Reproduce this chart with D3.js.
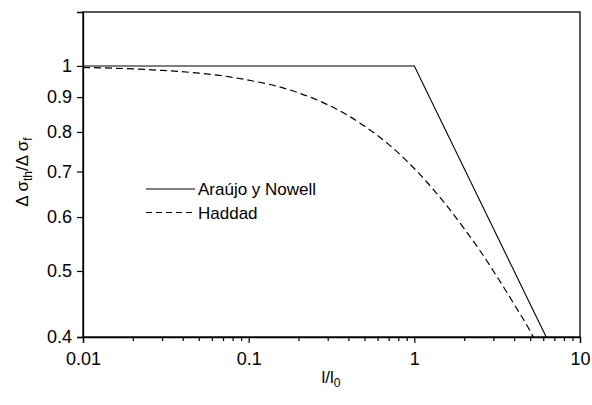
<!DOCTYPE html>
<html>
<head>
<meta charset="utf-8">
<script src="https://cdn.jsdelivr.net/npm/d3@7"></script>
<style>
  html, body { margin: 0; padding: 0; background: #fff; }
  svg { display: block; font-family: "Liberation Sans", Arial, sans-serif; }
</style>
</head>
<body>
<svg id="chart" width="592" height="405"></svg>
<script>
// Normalised crack length l/l0 and threshold ratio Δσth/Δσf
const arajoX = [0.01, 1, 6.25];
const arajoY = [1.0, 1.0, 0.4];

const haddadX = [0.01, 0.02, 0.03, 0.05, 0.07, 0.1, 0.15, 0.2, 0.3, 0.4, 0.5, 0.7, 1, 1.5, 2, 2.5, 3, 4, 5, 5.3];
const haddadY = [0.995, 0.99, 0.985, 0.976, 0.967, 0.953, 0.933, 0.913, 0.877, 0.845, 0.816, 0.767, 0.707, 0.632, 0.577, 0.535, 0.5, 0.447, 0.408, 0.397];

const xTicks = [0.01, 0.1, 1, 10];
const xTickLabels = ["0.01", "0.1", "1", "10"];
const yTicks = [0.4, 0.5, 0.6, 0.7, 0.8, 0.9, 1];
const yTickLabels = ["0.4", "0.5", "0.6", "0.7", "0.8", "0.9", "1"];

const seriesNames = ["Araújo y Nowell", "Haddad"];

const svg = d3.select("#chart");
const m = { left: 83, right: 580, top: 12, bottom: 337 };

const x = d3.scaleLog().domain([0.01, 10]).range([m.left, m.right]);
const y = d3.scaleLog().domain([0.4, 1.2]).range([m.bottom, m.top]);

// minor ticks 2..9 in each decade
const xMinor = [];
[0.01, 0.1, 1].forEach(d => { for (let k = 2; k <= 9; k++) xMinor.push(+(d * k).toPrecision(3)); });

svg.append("defs").append("clipPath").attr("id", "plotClip")
  .append("rect")
  .attr("x", m.left).attr("y", m.top)
  .attr("width", m.right - m.left).attr("height", m.bottom - m.top);

// x axis: major ticks with labels, then minor ticks
const xAxis = svg.append("g")
  .attr("transform", `translate(0,${m.bottom})`)
  .call(d3.axisBottom(x).tickValues(xTicks)
    .tickFormat((d, i) => xTickLabels[i]).tickSize(6).tickPadding(9));
svg.append("g")
  .attr("transform", `translate(0,${m.bottom})`)
  .call(d3.axisBottom(x).tickValues(xMinor).tickFormat("").tickSize(4))
  .call(g => g.select(".domain").remove());

const yAxis = svg.append("g")
  .attr("transform", `translate(${m.left},0)`)
  .call(d3.axisLeft(y).tickValues(yTicks)
    .tickFormat((d, i) => yTickLabels[i]).tickSize(6).tickPadding(5));

svg.selectAll(".tick text").attr("font-size", 18).attr("fill", "#000")
  .attr("font-family", "'Liberation Sans', Arial, sans-serif");
svg.selectAll(".tick line").attr("stroke", "#000").attr("stroke-width", 1.2);
svg.selectAll(".domain").attr("stroke", "#000").attr("stroke-width", 1.3);

// frame around the plot area
svg.append("rect")
  .attr("x", m.left).attr("y", m.top)
  .attr("width", m.right - m.left).attr("height", m.bottom - m.top)
  .attr("fill", "none").attr("stroke", "#000").attr("stroke-width", 1.3);

const line = d3.line().x(d => x(d[0])).y(d => y(d[1]));
const plot = svg.append("g").attr("clip-path", "url(#plotClip)");

plot.append("path")
  .datum(arajoX.map((v, i) => [v, arajoY[i]]))
  .attr("d", line)
  .attr("fill", "none").attr("stroke", "#000").attr("stroke-width", 1.1);

plot.append("path")
  .datum(haddadX.map((v, i) => [v, haddadY[i]]))
  .attr("d", line.curve(d3.curveMonotoneX))
  .attr("fill", "none").attr("stroke", "#000").attr("stroke-width", 1.2)
  .attr("stroke-dasharray", "7,4");

// legend
const legend = svg.append("g");
[0, 1].forEach(i => {
  const ly = 189 + i * 23.5;
  legend.append("line")
    .attr("x1", 146).attr("x2", 195).attr("y1", ly).attr("y2", ly)
    .attr("stroke", "#000").attr("stroke-width", 1.1)
    .attr("stroke-dasharray", i === 1 ? "6,4" : null);
  legend.append("text")
    .attr("x", 198).attr("y", ly + 6)
    .attr("font-size", 17).text(seriesNames[i]);
});

// axis titles
const xt = svg.append("text")
  .attr("x", 331).attr("y", 383)
  .attr("text-anchor", "middle").attr("font-size", 17);
xt.append("tspan").text("l/l");
xt.append("tspan").attr("font-size", 12).attr("dy", 4).text("0");

const yt = svg.append("text")
  .attr("transform", "translate(28,172) rotate(-90)")
  .attr("text-anchor", "middle").attr("font-size", 17);
yt.append("tspan").text("Δ σ");
yt.append("tspan").attr("font-size", 12).attr("dy", 4).text("th");
yt.append("tspan").attr("dy", -4).text("/Δ σ");
yt.append("tspan").attr("font-size", 12).attr("dy", 4).text("f");
</script>
</body>
</html>
